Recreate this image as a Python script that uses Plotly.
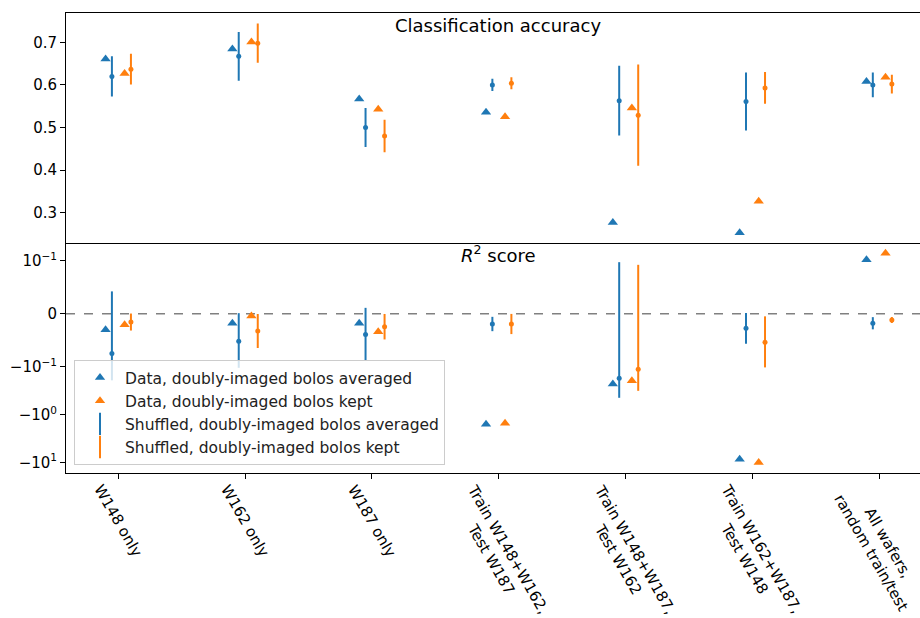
import numpy as np
import plotly.graph_objects as go
from plotly.subplots import make_subplots

# ---------------- data ----------------
categories = ["W148 only", "W162 only", "W187 only",
              "Train W148+W162,<br>Test W187",
              "Train W148+W187,<br>Test W162",
              "Train W162+W187,<br>Test W148",
              "All wafers,<br>random train/test"]

series_names = ["Data, doubly-imaged bolos averaged",
                "Data, doubly-imaged bolos kept",
                "Shuffled, doubly-imaged bolos averaged",
                "Shuffled, doubly-imaged bolos kept"]

acc_data_avg = [0.661, 0.684, 0.567, 0.536, 0.277, 0.253, 0.608]
acc_data_kept = [0.627, 0.701, 0.543, 0.525, 0.546, 0.327, 0.618]
acc_shuf_avg = [0.620, 0.667, 0.500, 0.600, 0.563, 0.561, 0.600]
acc_shuf_avg_err = [0.047, 0.057, 0.046, 0.0145, 0.082, 0.068, 0.029]
acc_shuf_kept = [0.637, 0.698, 0.480, 0.604, 0.529, 0.593, 0.602]
acc_shuf_kept_err = [0.036, 0.046, 0.038, 0.014, 0.119, 0.037, 0.022]

r2_data_avg = [-0.030, -0.018, -0.018, -1.60, -0.229, -8.6, 0.104]
r2_data_kept = [-0.021, -0.0043, -0.034, -1.52, -0.195, -10.1, 0.142]
r2_shuf_avg = [-0.075, -0.052, -0.039, -0.0194, -0.174, -0.0275, -0.018]
r2_shuf_avg_err = [0.117, 0.053, 0.050, 0.0135, 0.271, 0.029, 0.0115]
r2_shuf_kept = [-0.0157, -0.0326, -0.0245, -0.0194, -0.113, -0.054, -0.0119]
r2_shuf_kept_err = [0.016, 0.032, 0.024, 0.019, 0.205, 0.049, 0.0056]

r2_tick_values = [0.1, 0.0, -0.1, -1.0, -10.0]
r2_tick_labels = ["10<sup>\u22121</sup>", "0", "\u221210<sup>\u22121</sup>",
                  "\u221210<sup>0</sup>", "\u221210<sup>1</sup>"]

# ---------------- style ----------------
BLUE = "#1f77b4"
ORANGE = "#ff7f0e"
FONT = "DejaVu Sans"
offsets = [-0.1, -0.05, 0.05, 0.1]


def symlog(v, linthresh=0.1, linscale=1.0, base=10.0):
    v = np.asarray(v, dtype=float)
    c = linscale / (1.0 - 1.0 / base)
    a = np.abs(v)
    safe = np.maximum(a, 1e-300)
    return np.where(a <= linthresh, v / linthresh * c,
                    np.sign(v) * (c + np.log(safe / linthresh) / np.log(base)))


xi = np.arange(len(categories), dtype=float)

fig = make_subplots(rows=2, cols=1, shared_xaxes=True, vertical_spacing=0)


def tri(x, y, color, name, row, show):
    fig.add_trace(go.Scatter(x=x, y=y, mode="markers", name=name,
                             marker=dict(symbol="triangle-up", size=9, color=color),
                             showlegend=show), row=row, col=1)


def errpts(x, y, up, down, color, row):
    fig.add_trace(go.Scatter(x=x, y=y, mode="markers", showlegend=False,
                             marker=dict(symbol="circle", size=5, color=color),
                             error_y=dict(type="data", symmetric=False, array=up,
                                          arrayminus=down, color=color,
                                          thickness=2, width=0)),
                  row=row, col=1)


# top panel: classification accuracy
tri(xi + offsets[0], acc_data_avg, BLUE, series_names[0], 1, True)
tri(xi + offsets[2], acc_data_kept, ORANGE, series_names[1], 1, True)
errpts(xi + offsets[1], acc_shuf_avg, acc_shuf_avg_err, acc_shuf_avg_err, BLUE, 1)
errpts(xi + offsets[3], acc_shuf_kept, acc_shuf_kept_err, acc_shuf_kept_err, ORANGE, 1)

# bottom panel: R^2 (symlog)
tri(xi + offsets[0], symlog(r2_data_avg), BLUE, series_names[0], 2, False)
tri(xi + offsets[2], symlog(r2_data_kept), ORANGE, series_names[1], 2, False)
for m, e, col, off in [(r2_shuf_avg, r2_shuf_avg_err, BLUE, offsets[1]),
                       (r2_shuf_kept, r2_shuf_kept_err, ORANGE, offsets[3])]:
    m = np.asarray(m); e = np.asarray(e)
    tm = symlog(m)
    errpts(xi + off, tm, symlog(m + e) - tm, tm - symlog(m - e), col, 2)

# legend entries for the shuffled series
for name, col in [(series_names[2], BLUE), (series_names[3], ORANGE)]:
    fig.add_trace(go.Scatter(x=[None], y=[None], mode="markers", name=name,
                             marker=dict(symbol="line-ns-open", size=16, color=col,
                                         line=dict(width=2, color=col))),
                  row=2, col=1)

# ---------------- layout ----------------
W, H = 920, 618
ml, mt, mb = 66, 13, 145
plot_h = H - mt - mb
split = (H - mb - 242.5) / plot_h

axis_common = dict(showgrid=False, zeroline=False, showline=True,
                   linecolor="black", linewidth=1, ticks="outside",
                   ticklen=5, tickwidth=1, tickcolor="black",
                   tickfont=dict(family=FONT, size=15, color="black"))

fig.update_layout(
    width=W, height=H,
    margin=dict(l=ml, r=0, t=mt, b=mb),
    paper_bgcolor="white", plot_bgcolor="white",
    font=dict(family=FONT, size=15, color="black"),
    legend=dict(x=(74 - ml) / (W - ml), y=(H - mb - 465) / plot_h,
                xanchor="left", yanchor="bottom", itemwidth=40,
                bgcolor="rgba(255,255,255,0.8)", bordercolor="#cccccc",
                borderwidth=1, font=dict(family=FONT, size=15.5, color="#222222"),
                traceorder="normal"),
)

fig.update_xaxes(range=[-0.412, 6.322], tickvals=list(xi), showticklabels=False,
                 **axis_common)
fig.update_xaxes(row=1, col=1, mirror=True, ticks="")
fig.update_yaxes(row=1, col=1, domain=[split, 1], range=[0.230, 0.7688],
                 tickvals=[0.3, 0.4, 0.5, 0.6, 0.7], ticktext=["0.3", "0.4", "0.5", "0.6", "0.7"],
                 **axis_common)
fig.update_yaxes(row=2, col=1, domain=[0, split], range=[-3.333, 1.4895],
                 tickvals=list(symlog(r2_tick_values)), ticktext=r2_tick_labels,
                 **axis_common)

# dashed zero line
fig.add_shape(type="line", xref="x2 domain", yref="y2", x0=0, x1=1, y0=0, y1=0,
              line=dict(color="gray", width=1.5, dash="dash"), layer="below")

# panel titles
xc = (498.5 - ml) / (W - ml)
fig.add_annotation(text="Classification accuracy", xref="paper", yref="paper",
                   x=xc, y=(H - mb - 25.5) / plot_h, xanchor="center", yanchor="middle",
                   showarrow=False, font=dict(family=FONT, size=18, color="black"))
fig.add_annotation(text="<i>R</i><sup>2</sup> score", xref="paper", yref="paper",
                   x=xc, y=(H - mb - 254) / plot_h, xanchor="center", yanchor="middle",
                   showarrow=False, font=dict(family=FONT, size=18, color="black"))

# rotated category labels
for i, lab in enumerate(categories):
    fig.add_annotation(text=lab, xref="x2", yref="paper", x=xi[i],
                       y=(H - mb - 479) / plot_h, xanchor="center", yanchor="top",
                       textangle=60, showarrow=False, align="center",
                       font=dict(family=FONT, size=15, color="black"))

fig.write_html("out.html")
